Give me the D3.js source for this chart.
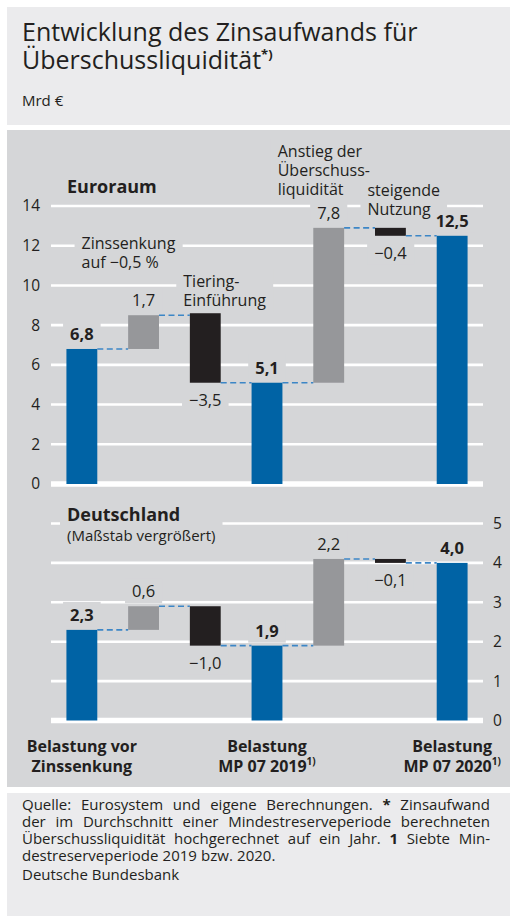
<!DOCTYPE html>
<html>
<head>
<meta charset="utf-8">
<script src="https://cdn.jsdelivr.net/npm/d3@7"></script>
<style>
body { margin: 0; background: #fff; }
svg text { font-family: "Open Sans", sans-serif; fill: #231f20; }
</style>
</head>
<body>
<svg id="chart" width="510" height="916"></svg>
<script>
// values (Mrd €)
var categories = ["Belastung vor Zinssenkung", "Zinssenkung auf −0,5 %", "Tiering-Einführung",
  "Belastung MP 07 2019", "Anstieg der Überschussliquidität", "steigende Nutzung", "Belastung MP 07 2020"];
var stepTypes = ["total", "up", "down", "total", "up", "down", "total"];
var euroValues = [6.8, 1.7, -3.5, 5.1, 7.8, -0.4, 12.5];
var deValues = [2.3, 0.6, -1.0, 1.9, 2.2, -0.1, 4.0];
var euroTicks = [0, 2, 4, 6, 8, 10, 12, 14];
var deTicks = [0, 1, 2, 3, 4, 5];
var euroNotes = [[], ["Zinssenkung", "auf −0,5 %"], ["Tiering-", "Einführung"], [],
  ["Anstieg der", "Überschuss-", "liquidität"], ["steigende", "Nutzung"], []];
var axisLabels = [["Belastung vor", "Zinssenkung"], [], [], ["Belastung", "MP 07 2019"], [], [], ["Belastung", "MP 07 2020"]];
var footLines = [
  [["Quelle:", 0], ["Eurosystem", 0], ["und", 0], ["eigene", 0], ["Berechnungen.", 0], ["*", 1], ["Zinsaufwand", 0]],
  [["der", 0], ["im", 0], ["Durchschnitt", 0], ["einer", 0], ["Mindestreserveperiode", 0], ["berechneten", 0]],
  [["Überschussliquidität", 0], ["hochgerechnet", 0], ["auf", 0], ["ein", 0], ["Jahr.", 0], ["1", 1], ["Siebte", 0], ["Min-", 0]],
  [["destreserveperiode", 0], ["2019", 0], ["bzw.", 0], ["2020.", 0]]
];

var colors = { total: "#0063a5", up: "#96979a", down: "#231f20" };
var panel = "#d5d6d8", light = "#ebebed", link = "#3c86c6";

var svg = d3.select("#chart");

// background panels
svg.append("rect").attr("x", 7).attr("y", 7).attr("width", 503).attr("height", 118).attr("fill", light);
svg.append("rect").attr("x", 7).attr("y", 130).attr("width", 503).attr("height", 657).attr("fill", panel);
svg.append("rect").attr("x", 7).attr("y", 793).attr("width", 503).attr("height", 123).attr("fill", light);

// title
svg.append("text").attr("x", 22).attr("y", 41).style("font-size", "25px").text("Entwicklung des Zinsaufwands für");
var t2 = svg.append("text").attr("x", 22).attr("y", 69).style("font-size", "25px");
t2.append("tspan").text("Überschussliquidität");
t2.append("tspan").attr("dy", -10).style("font-size", "13px").style("font-weight", "bold").text("*)");
svg.append("text").attr("x", 22).attr("y", 106).style("font-size", "15px").text("Mrd €");

var x = d3.scaleBand().domain(d3.range(categories.length)).range([51, 483]).paddingInner(0.5).paddingOuter(0.25);
var bw = x.bandwidth();

var fmt = function(v){ return (v < 0 ? "−" : "") + d3.format(".1f")(Math.abs(v)).replace(".", ","); };

// running levels; a falling step hangs from the total that follows it
var waterfall = function(vals){
  var bars = [], level = 0;
  vals.forEach(function(v, i){
    var t = stepTypes[i], lo, hi, after;
    if (t == "total") { lo = 0; hi = v; after = v; }
    else if (t == "up") { lo = level; hi = level + v; after = hi; }
    else {
      var j = i + 1;
      while (stepTypes[j] != "total") j++;
      lo = vals[j]; hi = vals[j] - v; after = lo;
    }
    bars.push({ i: i, v: v, t: t, lo: lo, hi: hi, after: after });
    level = after;
  });
  return bars;
};

var drawPanel = function(vals, ticks, y, tickSide){
  var g = svg.append("g");
  var gGrid = g.append("g"), gBox = g.append("g"), gBars = g.append("g"), gText = g.append("g");
  var bars = waterfall(vals);

  gGrid.selectAll("line").data(ticks).enter().append("line")
    .attr("x1", 51).attr("x2", 483)
    .attr("y1", function(d){ return y(d); }).attr("y2", function(d){ return y(d); })
    .attr("stroke", "#fff").attr("stroke-width", function(d){ return d == 0 ? 5.5 : 2.6; });

  gText.selectAll(".tick").data(ticks).enter().append("text")
    .attr("x", tickSide == "left" ? 40 : 493)
    .attr("y", function(d){ return y(d); }).attr("dy", "0.35em")
    .attr("text-anchor", tickSide == "left" ? "end" : "start")
    .style("font-size", "15.5px").text(function(d){ return d; });

  gBars.selectAll("rect").data(bars).enter().append("rect")
    .attr("x", function(d){ return x(d.i); }).attr("width", bw)
    .attr("y", function(d){ return y(d.hi); })
    .attr("height", function(d){ return Math.max(1, y(d.lo) - y(d.hi)); })
    .attr("fill", function(d){ return colors[d.t]; });

  gBars.selectAll("line").data(bars.slice(0, -1)).enter().append("line")
    .attr("x1", function(d){ return x(d.i) + bw; }).attr("x2", function(d){ return x(d.i + 1); })
    .attr("y1", function(d){ return y(d.after); }).attr("y2", function(d){ return y(d.after); })
    .attr("stroke", link).attr("stroke-width", 1.6).attr("stroke-dasharray", "6,3.5");

  var labels = gText.selectAll(".val").data(bars).enter().append("text")
    .attr("x", function(d){ return x(d.i) + bw / 2; })
    .attr("y", function(d){ return d.t == "down" ? y(d.lo) + 23 : y(d.hi) - 9; })
    .attr("text-anchor", "middle")
    .style("font-size", "16.5px")
    .style("font-weight", function(d){ return d.t == "total" ? "bold" : "normal"; })
    .text(function(d){ return fmt(d.v); });
  labels.each(function(){ knockOut(gBox, this); });
  return { g: g, gBox: gBox, gText: gText };
};

// panel-coloured box behind a label so the grid lines stop short of it
var knockOut = function(gBox, node){
  var b = node.getBBox();
  gBox.append("rect").attr("x", b.x - 7).attr("y", b.y - 1).attr("width", b.width + 14).attr("height", b.height + 2).attr("fill", panel);
};

// Euroraum
var yEuro = d3.scaleLinear().domain([0, 14]).range([484, 206]);
var pe = drawPanel(euroValues, euroTicks, yEuro, "left");
var et = pe.gText.append("text").attr("x", 67).attr("y", 193).style("font-size", "18px").style("font-weight", "bold").text("Euroraum");
knockOut(pe.gBox, et.node());

var notePos = [null, { dx: -62, y: 249 }, { dx: -22, y: 287 }, null, { dx: -51, y: 157 }, { dx: -23, y: 196 }, null];
euroNotes.forEach(function(lines, i){
  if (!lines.length) return;
  var nt = pe.gText.append("text").style("font-size", "16px");
  lines.forEach(function(s, k){
    nt.append("tspan").attr("x", x(i) + bw / 2 + notePos[i].dx).attr("y", notePos[i].y + k * 19).text(s);
  });
  knockOut(pe.gBox, nt.node());
});

// Deutschland
var yDe = d3.scaleLinear().domain([0, 5]).range([720.5, 523.5]);
var pd = drawPanel(deValues, deTicks, yDe, "right");
var dt = pd.gText.append("text").attr("x", 67);
dt.append("tspan").attr("x", 67).attr("y", 521).style("font-size", "18px").style("font-weight", "bold").text("Deutschland");
dt.append("tspan").attr("x", 67).attr("y", 541).style("font-size", "15px").text("(Maßstab vergrößert)");
knockOut(pd.gBox, dt.node());

// category labels under the lower panel
axisLabels.forEach(function(lines, i){
  if (!lines.length) return;
  var at = svg.append("text").attr("text-anchor", "middle").style("font-size", "16px").style("font-weight", "bold");
  lines.forEach(function(s, k){
    at.append("tspan").attr("x", x(i) + bw / 2).attr("y", 752 + k * 20).text(s);
  });
  if (i > 0) {
    at.append("tspan").attr("dy", -7).style("font-size", "10px").text("1)");
  }
});

// source note, justified like the original
var footX0 = 22, footX1 = 490, footSize = "15px";
footLines.forEach(function(words, li){
  var yy = 810 + li * 17;
  var nodes = words.map(function(w){
    return svg.append("text").attr("y", yy).style("font-size", footSize)
      .style("font-weight", w[1] ? "bold" : "normal").text(w[0]);
  });
  var widths = nodes.map(function(n){ return n.node().getComputedTextLength(); });
  var gap = li < footLines.length - 1 ? (footX1 - footX0 - d3.sum(widths)) / (words.length - 1) : 4.2;
  var cx = footX0;
  nodes.forEach(function(n, k){ n.attr("x", cx); cx += widths[k] + gap; });
});
svg.append("text").attr("x", 22).attr("y", 880).style("font-size", footSize).text("Deutsche Bundesbank");
</script>
</body>
</html>
